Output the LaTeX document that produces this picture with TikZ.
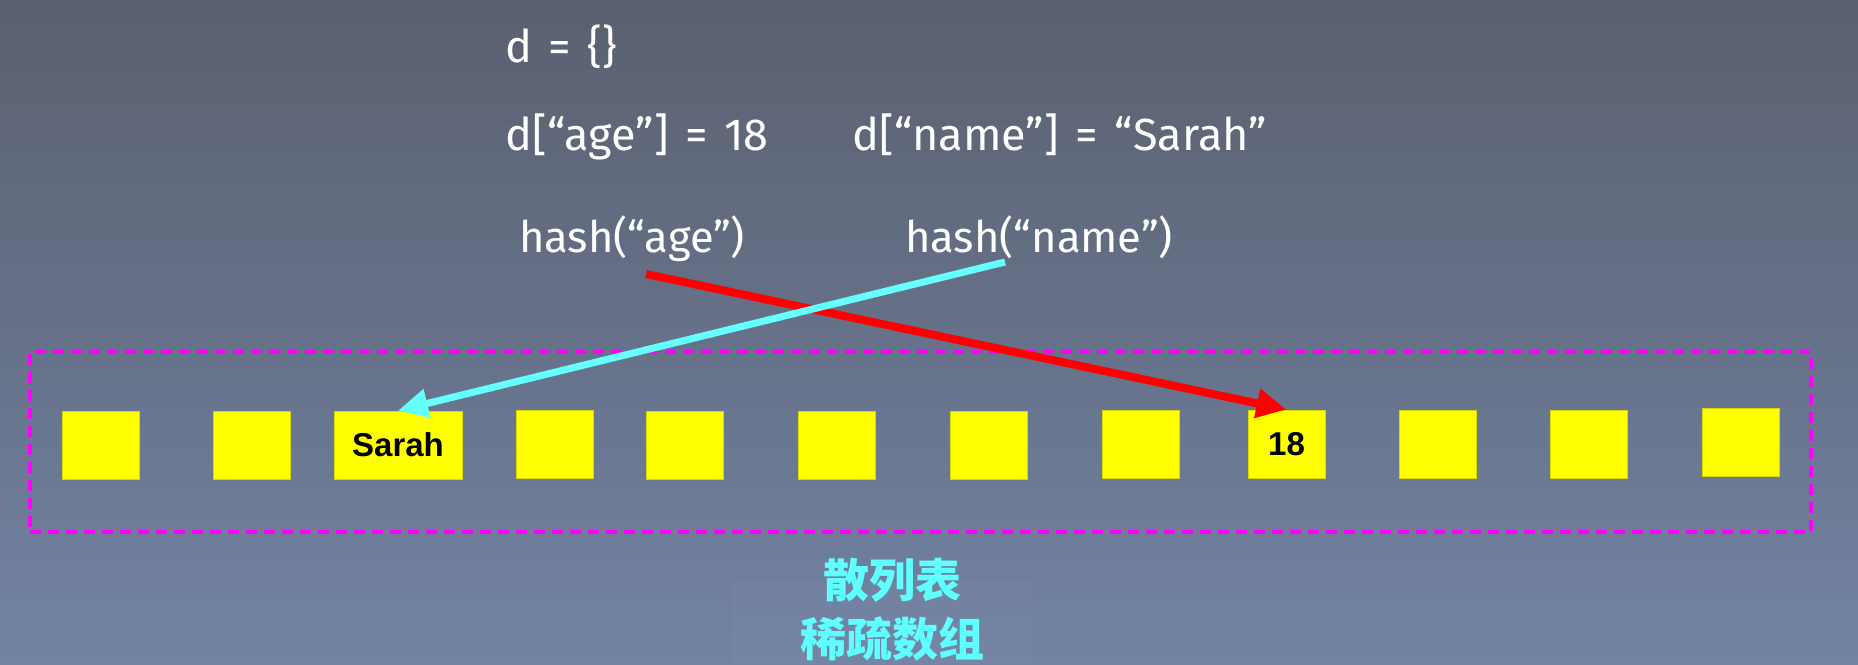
\documentclass[tikz,border=0pt]{standalone}
\usepackage{fontspec}
\usetikzlibrary{arrows.meta}
\newfontfamily\lightfont{Fira Sans}
\newfontfamily\codefont{Fira Sans}[WordSpace=1.4]
\newfontfamily\boldsans{Liberation Sans}
\newfontfamily\cjk{Noto Sans CJK SC}
\definecolor{bgtop}{HTML}{5A606F}
\definecolor{bgbot}{HTML}{7283A3}
\definecolor{cellyellow}{HTML}{FFFF00}
\definecolor{celledge}{HTML}{D8D800}
\definecolor{framemag}{HTML}{FF00FF}
\definecolor{arrowcyan}{HTML}{66FFFF}
\definecolor{labelcyan}{HTML}{5FFFFF}
\definecolor{arrowred}{HTML}{FF0000}
\begin{document}
\begin{tikzpicture}[x=1pt,y=-1pt,
  cell/.style={rectangle,fill=cellyellow,draw=celledge,line width=0.8pt,
    minimum width=77pt,minimum height=68pt,inner sep=0pt,
    font=\boldsans\bfseries\fontsize{33}{40}\selectfont,text=black},
  code/.style={anchor=base west,inner sep=0pt,text=white,
    font=\codefont\fontsize{45}{52}\selectfont},
  hashtxt/.style={anchor=base west,inner sep=0pt,text=white,
    font=\lightfont\fontsize{43.5}{52}\selectfont},
  ptr/.style={line width=8pt,-{Triangle[length=30pt,width=28pt]}},
  hashframe/.style={draw=framemag,line width=4pt,dash pattern=on 11pt off 7pt},
  cjklabel/.style={anchor=base,inner sep=0pt,text=labelcyan,
    font=\cjk\bfseries\fontsize{46}{56}\selectfont}]
  % background
  \shade[top color=bgtop,bottom color=bgbot] (0,0) rectangle (1858,664);
  \useasboundingbox (0,0) rectangle (1858,664);
  \fill[white,opacity=0.022] (732,583) rectangle (1031,664);
  % code text
  \node[code] (t0) at (505,62) {d = \{\}};
  \node[code] (t1) at (505,150) {d[“age”] = 18};
  \node[code] (t2) at (852,150) {d[“name”] = “Sarah”};
  \node[hashtxt] (h1) at (519,252) {hash(“age”)};
  \node[hashtxt] (h2) at (905,252) {hash(“name”)};
  % frame
  \node[hashframe,rectangle,inner sep=0pt,minimum width=1781pt,minimum height=180pt] (frm) at (920.5,442) {};
  % cells
  \node[cell] (c1) at (100.5,445) {};
  \node[cell] (c2) at (251.5,445) {};
  \node[cell,minimum width=128pt] (c3) at (398,445) {Sarah};
  \node[cell] (c4) at (555,444) {};
  \node[cell] (c5) at (685,445) {};
  \node[cell] (c6) at (836.5,445) {};
  \node[cell] (c7) at (988.5,445) {};
  \node[cell] (c8) at (1140.5,444) {};
  \node[cell] (c9) at (1286.5,444) {18};
  \node[cell] (c10) at (1437.5,444) {};
  \node[cell] (c11) at (1588.5,444) {};
  \node[cell] (c12) at (1741,442) {};
  % arrows
  \coordinate (ra) at (646,274);
  \coordinate (ca) at (1005,262);
  \draw[ptr,draw=arrowred] (ra) -- (c9.north);
  \draw[ptr,draw=arrowcyan,line width=7pt] (ca) -- (c3.north);
  % labels
  \node[cjklabel] (l1) at (892,597) {散列表};
  \node[cjklabel] (l2) at (892,656) {稀疏数组};
\end{tikzpicture}
\end{document}
